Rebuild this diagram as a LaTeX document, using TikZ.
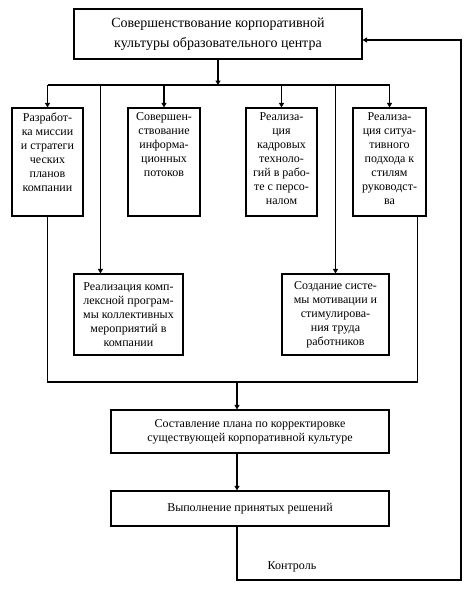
\documentclass[tikz,border=0pt]{standalone}
\usepackage{fontspec}
\setmainfont{Liberation Serif}
\usetikzlibrary{arrows.meta,positioning,calc}
\newcommand{\coltext}[1]{\parbox[c][98pt][t]{71pt}{\centering #1}}

\begin{document}
\begin{tikzpicture}[x=1pt, y=-1pt, line width=1.1pt,
  >={Triangle[length=4.5pt,width=5pt]},
  blk/.style={draw, line width=1.1pt, inner sep=0pt, align=center,
    font=\fontsize{12}{14}\selectfont},
  wide/.style={blk, minimum width=288pt, minimum height=50pt,
    font=\fontsize{14}{20}\selectfont},
  colbox/.style={blk, minimum width=#1, minimum height=108pt},
  colbox/.default=71pt,
  midbox/.style={blk, minimum width=#1, minimum height=81pt},
  planbox/.style={blk, minimum width=278pt, minimum height=#1}]
  \useasboundingbox (0,0) rectangle (475,589);
  \node[wide] (top) at (218,34) {Совершенствование корпоративной\\культуры образовательного центра};
  \node[colbox] (mission) at (47.5,162) {\coltext{Разработ-\\ка миссии\\и стратеги\\ческих\\планов\\компании}};
  \node[colbox=72pt] (info) at (164,162) {\coltext{Совершен-\\ствование\\информа-\\ционных\\потоков}};
  \node[colbox] (staff) at (281.5,162) {\coltext{Реализа-\\ция\\кадровых\\техноло-\\гий в рабо-\\те с персо-\\налом}};
  \node[colbox=73pt] (lead) at (389.5,162) {\coltext{Реализа-\\ция ситуа-\\тивного\\подхода к\\стилям\\руководст-\\ва}};
  \node[midbox=109pt] (events) at (128.5,314.5) {Реализация комп-\\лексной програм-\\мы коллективных\\мероприятий в\\компании};
  \node[midbox=107pt] (motiv) at (335.5,314.5) {Создание систе-\\мы мотивации и\\стимулирова-\\ния труда\\работников};
  \node[planbox=43pt] (plan) at (250,431.5) {Составление плана по корректировке\\существующей корпоративной культуре};
  \node[planbox=35pt] (exec) at (250,508.5) {Выполнение принятых решений};
  \node[font=\fontsize{12}{14}\selectfont] (ctrl) at (292,567) {Контроль};
  \coordinate (bus) at (218,85);
  \coordinate (join) at (237,382);
  \coordinate (back) at (461,580);
  % edges
  \draw[->] (top.south) -- (bus);
  \draw (mission.north |- bus) -- (lead.north |- bus);
  \draw[->] (mission.north |- bus) -- (mission.north);
  \draw[->] (info.north |- bus) -- (info.north);
  \draw[->] (staff.north |- bus) -- (staff.north);
  \draw[->] (lead.north |- bus) -- (lead.north);
  \draw[->] ([xshift=27pt]events.north west |- bus) -- ([xshift=27pt]events.north west);
  \draw[->] (motiv.north |- bus) -- (motiv.north);
  \draw (mission.south) |- (join) -| ([xshift=-9pt]lead.south east);
  \draw[->] (join) -- (join |- plan.north);
  \draw[->] (join |- plan.south) -- (join |- exec.north);
  \draw[->] (join |- exec.south) -- (join |- back) -- (back) |- ([yshift=-6pt]top.east);
\end{tikzpicture}
\end{document}
